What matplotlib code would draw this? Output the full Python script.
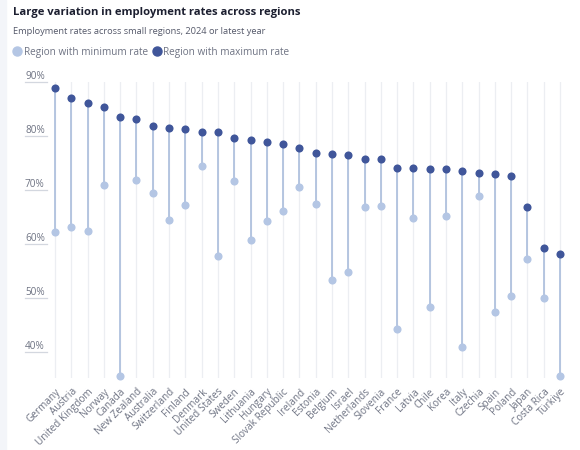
import matplotlib.pyplot as plt
from matplotlib.lines import Line2D
from matplotlib.patches import Rectangle
import matplotlib.transforms as mtransforms

plt.rcParams['font.family'] = ['Open Sans', 'DejaVu Sans']

# data
countries = ['Germany', 'Austria', 'United Kingdom', 'Norway', 'Canada', 'New Zealand',
             'Australia', 'Switzerland', 'Finland', 'Denmark', 'United States', 'Sweden',
             'Lithuania', 'Hungary', 'Slovak Republic', 'Ireland', 'Estonia', 'Belgium',
             'Israel', 'Netherlands', 'Slovenia', 'France', 'Latvia', 'Chile', 'Korea',
             'Italy', 'Czechia', 'Spain', 'Poland', 'Japan', 'Costa Rica', 'Türkiye']
max_rate = [88.8, 87.0, 86.2, 85.4, 83.5, 83.2, 81.9, 81.5, 81.3, 80.7, 80.7, 79.6,
            79.3, 78.8, 78.5, 77.7, 76.9, 76.6, 76.5, 75.7, 75.7, 74.1, 74.0, 73.9,
            73.9, 73.6, 73.1, 73.0, 72.6, 66.8, 59.3, 58.2]
min_rate = [62.2, 63.2, 62.5, 70.9, 35.6, 71.9, 69.4, 64.5, 67.2, 74.4, 57.8, 71.7,
            60.8, 64.3, 66.2, 70.6, 67.5, 53.4, 54.9, 66.8, 67.1, 44.3, 64.9, 48.3,
            65.1, 40.9, 68.9, 47.5, 50.3, 57.3, 50.0, 35.6]
yticks = [40, 50, 60, 70, 80, 90]

c_max = '#40569a'
c_min = '#b4c6e4'
c_stem = '#aabddc'
c_grid = '#eceef2'
c_text = '#6e7383'

fig = plt.figure(figsize=(5.8, 4.5), dpi=100)
# light page edge on the left
fig.patches.append(Rectangle((0, 0), 6 / 580, 1, transform=fig.transFigure,
                             color='#f3f5f9', zorder=0))

ax = fig.add_axes([46.9 / 580, 1 - 378 / 450, 521.3 / 580, 296 / 450])
x = list(range(len(countries)))

# vertical grid lines per country
for xi in x:
    ax.axvline(xi, color=c_grid, lw=0.9, zorder=0)

# stems and dots
ax.vlines(x, min_rate, max_rate, color=c_stem, lw=1.2, zorder=1)
ax.scatter(x, min_rate, s=34, color=c_min, zorder=2, clip_on=False, linewidths=0)
ax.scatter(x, max_rate, s=34, color=c_max, zorder=3, clip_on=False, linewidths=0)

ax.set_xlim(-0.5, len(countries) - 0.5)
ax.set_ylim(35.2, 90)
for s in ax.spines.values():
    s.set_visible(False)
ax.set_yticks([])
ax.set_xticks(x)
ax.set_xticklabels(countries, rotation=45, ha='right', rotation_mode='anchor',
                   fontsize=7.2, color=c_text)
ax.tick_params(axis='x', length=0, pad=6)

# y tick stubs with labels sitting above
trans = mtransforms.blended_transform_factory(fig.transFigure, ax.transData)
for t in yticks:
    ax.plot([25 / 580, 47 / 580], [t, t], transform=trans, color='#d3d7df',
            lw=0.9, clip_on=False)
    ax.text(25 / 580, t + 0.95, f'{t}%', transform=trans, fontsize=7.2, color=c_text,
            ha='left', va='center')

# titles
fig.text(13 / 580, 1 - 13 / 450, 'Large variation in employment rates across regions',
         fontsize=8.1, fontweight='bold', color='#1c1f30', va='center', ha='left')
fig.text(13 / 580, 1 - 31 / 450, 'Employment rates across small regions, 2024 or latest year',
         fontsize=6.7, color='#55596a', va='center', ha='left')

handles = [Line2D([], [], marker='o', ls='', color=c_min, markersize=6.5),
           Line2D([], [], marker='o', ls='', color=c_max, markersize=6.5)]
fig.legend(handles, ['Region with minimum rate', 'Region with maximum rate'],
           loc='center left', bbox_to_anchor=(2 / 580, 1 - 52 / 450), ncol=2,
           frameon=False, fontsize=7.2, handletextpad=0.05, columnspacing=0.3,
           handlelength=1.2, labelcolor=c_text)

fig.savefig('out.png', dpi=100)
